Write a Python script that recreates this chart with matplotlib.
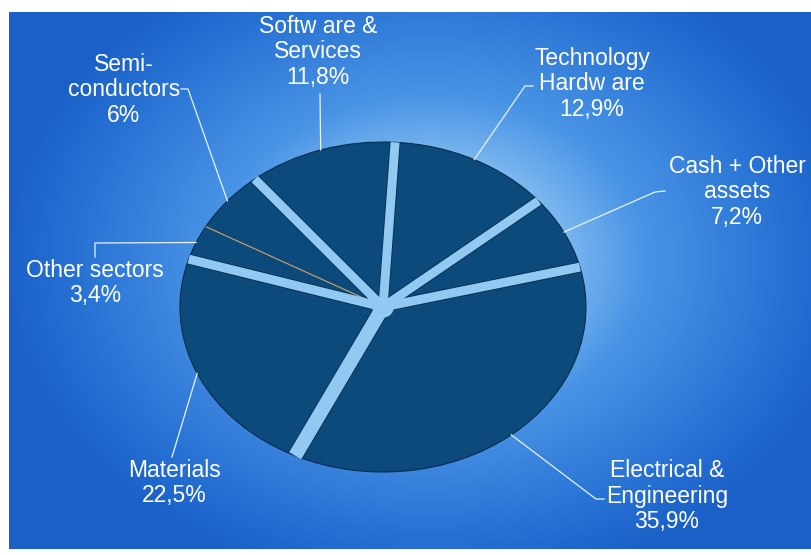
import numpy as np
import matplotlib
matplotlib.use('Agg')
import matplotlib.pyplot as plt
from matplotlib.colors import LinearSegmentedColormap
from matplotlib.patches import Ellipse

plt.rcParams['font.family'] = ['Liberation Sans', 'DejaVu Sans']

W, H = 811, 555

# sectors listed counter-clockwise, starting at the Cash / Electrical boundary
SECTORS = ["Cash + Other\nassets", "Technology\nHardw are", "Softw are &\nServices",
           "Semi-\nconductors", "Other sectors", "Materials", "Electrical &\nEngineering"]
WEIGHTS = [7.2, 12.9, 11.8, 6.0, 3.4, 22.5, 35.9]

# label block centres and leader elbows, in pixels
LABEL_XY = [(737, 192), (592, 84), (318, 52), (124, 90), (95, 283), (174, 483), (667, 496)]
ELBOW_XY = [(655, 192), (525, 86), (320, 94), (188, 89), (95, 243), (172, 457), (596, 499)]
TAIL_XY = [(665, 191), (533, 86), None, (181, 89), (95, 257), None, (604, 499)]

# gap drawn after each sector (width in px, 0 = thin seam)
GAP_PX = [9, 9, 9, 0, 9, 14, 9]

START = 14
PIE_CX, PIE_CY, PIE_RX, PIE_RY = 383, 307, 203, 165
PANEL = (9, 12, 811, 549)

SLICE = "#0c4a7b"
EDGE = "#062c4c"
GAP = "#92c9f3"


fig = plt.figure(figsize=(W / 100, H / 100), dpi=100)
fig.patch.set_facecolor("white")

# radial blue backdrop
bg = fig.add_axes([0, 0, 1, 1])
bg.set_xlim(0, W)
bg.set_ylim(H, 0)
bg.axis("off")
x0, y0, x1, y1 = PANEL
xx, yy = np.meshgrid(np.arange(x0, x1), np.arange(y0, y1))
d = np.sqrt(((xx - 430) / 430) ** 2 + ((yy - 260) / 330) ** 2)
cmap = LinearSegmentedColormap.from_list(
    "bg", [(0, "#c4e2fa"), (0.25, "#8cc3f2"), (0.5, "#4a94e6"), (0.8, "#2a74d6"), (1, "#1a60c8")])
bg.imshow(np.clip(d, 0, 1), cmap=cmap, vmin=0, vmax=1, extent=[x0, x1, y1, y0],
          interpolation="bilinear", zorder=0)

# the pie itself, stretched into an ellipse
pax = fig.add_axes([(PIE_CX - PIE_RX) / W, 1 - (PIE_CY + PIE_RY) / H,
                    2 * PIE_RX / W, 2 * PIE_RY / H])
pax.patch.set_alpha(0)
wedges, _ = pax.pie(WEIGHTS, startangle=START, counterclock=True, colors=[SLICE] * 7,
                    wedgeprops=dict(edgecolor=EDGE, linewidth=0.8))
pax.set_aspect("auto")
pax.set_xlim(-1, 1)
pax.set_ylim(-1, 1)
pax.axis("off")

total = sum(WEIGHTS)
bounds = START + np.cumsum(WEIGHTS) / total * 360
mids = START + (np.cumsum(WEIGHTS) - np.array(WEIGHTS) / 2) / total * 360

for ang, gw in zip(bounds, GAP_PX):
    t = np.deg2rad(ang)
    xs, ys = [0, np.cos(t)], [0, np.sin(t)]
    if gw == 0:
        pax.plot(xs, ys, color="#c0a276", lw=0.9, solid_capstyle="butt", zorder=5)
        continue
    lw = gw * 0.72
    pax.plot(xs, ys, color=EDGE, lw=lw + 1.2, solid_capstyle="butt", zorder=4)
    pax.plot(xs, ys, color=GAP, lw=lw, solid_capstyle="butt", zorder=5)
pax.add_patch(Ellipse((0, 0), 0.1, 0.12, color=GAP, zorder=6))

# labels and leader lines
ov = fig.add_axes([0, 0, 1, 1])
ov.set_xlim(0, W)
ov.set_ylim(H, 0)
ov.axis("off")
for name, w, mid, lab, elb, tail in zip(SECTORS, WEIGHTS, mids, LABEL_XY, ELBOW_XY, TAIL_XY):
    t = np.deg2rad(mid)
    rim = (PIE_CX + PIE_RX * np.cos(t), PIE_CY - PIE_RY * np.sin(t))
    pts = [rim, elb] + ([tail] if tail else [])
    ov.plot([p[0] for p in pts], [p[1] for p in pts], color="#e8f4ff", lw=0.9, zorder=3)
    pct = f"{w:g}".replace(".", ",") + "%"
    ov.text(lab[0], lab[1], f"{name}\n{pct}", color="white", fontsize=16.5,
            ha="center", va="center", linespacing=1.15, zorder=4)

fig.savefig("out.png", dpi=100)
